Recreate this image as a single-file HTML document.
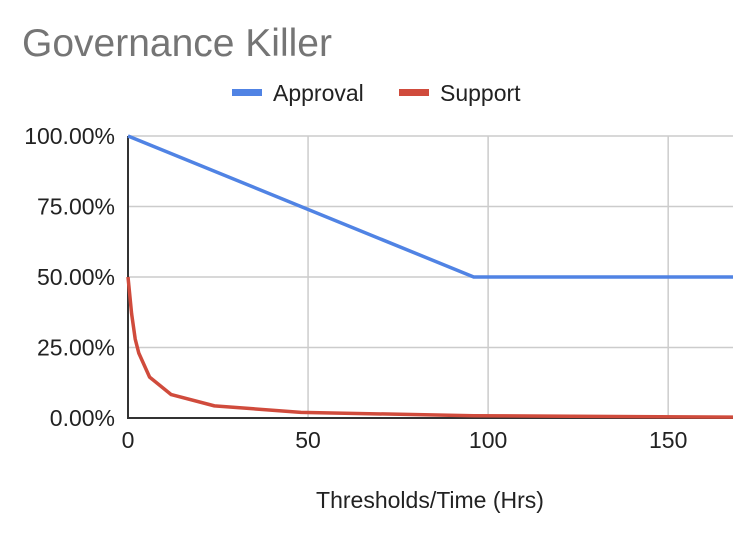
<!DOCTYPE html>
<html><head><meta charset="utf-8"><style>
body{margin:0;background:#fff;font-family:"Liberation Sans",Arial,sans-serif}
svg{display:block}
</style></head><body>
<svg id="chart" width="754" height="534">
<text x="22" y="56" font-size="39" fill="#757575">Governance Killer</text>
<g>
<g><rect x="232" y="89" width="30" height="7" fill="#5083e4"/><text x="273" y="101" font-size="23" fill="#222">Approval</text></g>
<g><rect x="399" y="89" width="30" height="7" fill="#d04b3c"/><text x="440" y="101" font-size="23" fill="#222">Support</text></g>
</g>
<g id="grid"></g><g id="axes"></g><g id="series"></g>
<text x="430" y="508" font-size="23" fill="#222" text-anchor="middle">Thresholds/Time (Hrs)</text>
</svg>
<script>
const xTicks=[0,50,100,150];
const yTicks=[0,0.25,0.5,0.75,1];
const yTickLabels=["0.00%","25.00%","50.00%","75.00%","100.00%"];
const approvalT=[0,96,168];
const approvalV=[1,0.5,0.5];
const supportT=[0,1,2,3,6,12,24,48,96,168];
const supportV=[0.5,0.37,0.28,0.23,0.145,0.083,0.043,0.02,0.008,0.003];
const X0=128,X1=733,Y0=418,Y1=136,XMAX=168;
const sx=t=>X0+(X1-X0)*t/XMAX, sy=v=>Y0-(Y0-Y1)*v;
const NS="http://www.w3.org/2000/svg";
function mk(tag,attrs,parent){const e=document.createElementNS(NS,tag);for(const k in attrs)e.setAttribute(k,attrs[k]);document.getElementById(parent).appendChild(e);return e;}
xTicks.forEach((t,i)=>{
 if(t>0){const l=mk('line',{x1:sx(t),x2:sx(t),y1:Y1,y2:Y0,stroke:'#ccc','stroke-width':1.5},'grid');
 
 }
 const tx=mk('text',{x:sx(t),y:448,'font-size':23,fill:'#222','text-anchor':'middle'},'axes');tx.textContent=t;
 
 
});
yTicks.forEach((v,i)=>{
 if(v>0){const l=mk('line',{x1:X0,x2:X1,y1:sy(v),y2:sy(v),stroke:'#ccc','stroke-width':1.5},'grid');
 
 }
 const tx=mk('text',{x:115,y:sy(v)+8,'font-size':23,fill:'#222','text-anchor':'end'},'axes');tx.textContent=yTickLabels[i];
 
 
});
const ax=mk('path',{d:`M${X0},${Y1} V${Y0} H${X1}`,stroke:'#333','stroke-width':2,fill:'none'},'axes');


function line(T,V,color,name){
 const p=mk('polyline',{points:T.map((t,i)=>sx(t)+','+sy(V[i])).join(' '),stroke:color,'stroke-width':3.5,fill:'none','stroke-linejoin':'round'},'series');
 
 
}
line(approvalT,approvalV,'#5083e4','approval-line');
line(supportT,supportV,'#d04b3c','support-line');
</script>
</body></html>
